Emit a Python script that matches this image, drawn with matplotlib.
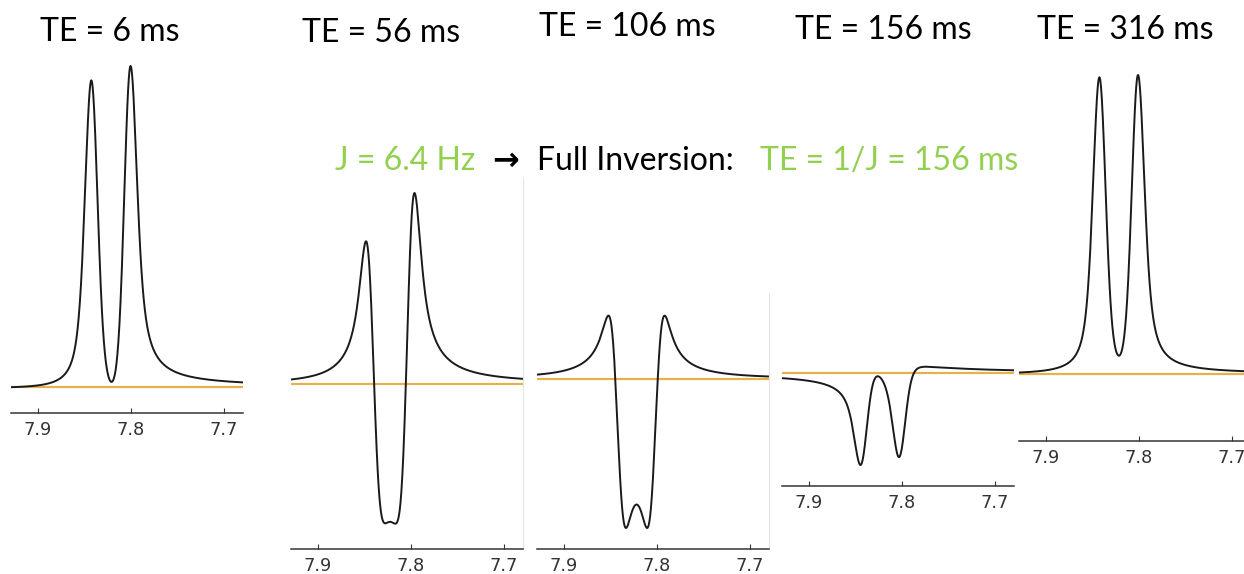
import numpy as np
import matplotlib as mpl
mpl.use('Agg')
from matplotlib import pyplot as plt

# echo times (ms) and J coupling of the doublet (Hz)
te_ms = [6, 56, 106, 156, 316]
j_hz = 6.4
# doublet line positions (ppm)
line_ppm = [7.842, 7.802]
# relative amplitude of the upfield line in each spectrum
amp_upfield = [1.03, 1.2, 1.0, 1.0, 1.0]
# lineshape: lorentzian / gaussian FWHM (ppm)
lw_lor = 0.008
lw_gau = 0.012
# extra antiphase rotation and zero-order phase of each spectrum (deg)
antiphase_deg = [5, -2.5, -24, 8, 4.5]
phase0_deg = [-5, 2.5, 0, 22, -2]
# axis ticks
tick_ppm = [7.9, 7.8, 7.7]
tick_labels = ['7.9', '7.8', '7.7']
ppm_range = (7.929, 7.680)

title_labels = ['TE = %d ms' % te for te in te_ms]
note_parts = ['J = 6.4 Hz', '\u2192', 'Full Inversion:', 'TE = 1/J = 156 ms']

W, H = 1244, 574
GREEN = '#92D050'
ORANGE = '#E8B04A'

# simulate the doublet after J evolution (phase = +/- pi*J*TE) via FID + FFT
sw, npts, carrier = 1.0, 8192, 7.8
t = np.arange(npts) / sw
ppm = np.fft.fftshift(np.fft.fftfreq(npts, d=1.0 / sw)) + carrier


def spectrum(i):
    theta = np.pi * j_hz * te_ms[i] * 1e-3 + np.deg2rad(antiphase_deg[i])
    fid = np.zeros(npts, complex)
    for sgn, pos, amp in zip((1, -1), line_ppm, (1.0, amp_upfield[i])):
        ph = sgn * theta + np.deg2rad(phase0_deg[i])
        fid += amp * np.exp(1j * ph) * np.exp(2j * np.pi * (pos - carrier) * t)
    fid *= np.exp(-np.pi * lw_lor * t) * np.exp(-(np.pi * lw_gau * t) ** 2 / (4 * np.log(2)))
    fid[0] *= 0.5
    return np.fft.fftshift(np.fft.fft(fid)).real


# panel layout in pixels: x of the 7.9 tick, axes top, spine, zero line,
# and the pixel row of the tallest peak (max) or deepest dip (min)
tick79_px = [38, 318, 564, 809, 1046]
top_px = [50, 178, 293, 350, 60]
spine_px = [413, 549, 549, 486, 441]
zero_px = [387, 384, 379, 373, 374]
ref_px = [66, 193, 528, 465, 75]
ref_kind = ['max', 'max', 'min', 'min', 'max']
title_xy = [(110, 41), (381, 42), (627, 36), (883, 39), (1125, 39)]
px_per_ppm = 930.0

fig = plt.figure(figsize=(W / 100, H / 100), dpi=100)

for i, te in enumerate(te_ms):
    x0 = tick79_px[i] - (ppm_range[0] - 7.9) * px_per_ppm
    wd = (ppm_range[0] - ppm_range[1]) * px_per_ppm
    ax = fig.add_axes([x0 / W, 1 - spine_px[i] / H, wd / W, (spine_px[i] - top_px[i]) / H])
    spec = spectrum(i)
    sel = (ppm < ppm_range[0]) & (ppm > ppm_range[1])
    ext = spec[sel].max() if ref_kind[i] == 'max' else spec[sel].min()
    k = (zero_px[i] - ref_px[i]) / ext
    ax.axhline(0, color=ORANGE, lw=1.6, zorder=1)
    ax.plot(ppm[sel], spec[sel], color='#1a1a1a', lw=1.4, zorder=2)
    ax.set_xlim(ppm_range)
    ax.set_ylim((zero_px[i] - spine_px[i]) / k, (zero_px[i] - top_px[i]) / k)
    for s in ('left', 'top'):
        ax.spines[s].set_visible(False)
    if i in (1, 2):
        ax.spines['right'].set_color('#e4e4e4')
        ax.spines['right'].set_linewidth(0.8)
    else:
        ax.spines['right'].set_visible(False)
    ax.spines['bottom'].set_color('#333333')
    ax.spines['bottom'].set_linewidth(1.1)
    ax.set_yticks([])
    ax.set_xticks(tick_ppm)
    ax.set_xticklabels(tick_labels)
    ax.tick_params(axis='x', direction='in', length=3.5, width=0.8, colors='#333333',
                   labelsize=12.8, pad=5.5)
    ax.patch.set_alpha(0)
    fig.text(title_xy[i][0] / W, 1 - title_xy[i][1] / H, title_labels[i], ha='center',
             va='baseline', fontsize=23, family=['Lato', 'DejaVu Sans'])

# annotation line across the middle panels
note_x = [335, 492, 537, 760]
note_c = [GREEN, 'black', 'black', GREEN]
note_fam = [['Lato'], ['DejaVu Sans'], ['Lato'], ['Lato']]
note_w = ['normal', 'bold', 'normal', 'normal']
for txt, xp, c, fam, fw in zip(note_parts, note_x, note_c, note_fam, note_w):
    fig.text(xp / W, 1 - 170 / H, txt, ha='left', va='baseline', fontsize=23, color=c,
             family=fam, weight=fw)

fig.savefig('out.png', dpi=100)
